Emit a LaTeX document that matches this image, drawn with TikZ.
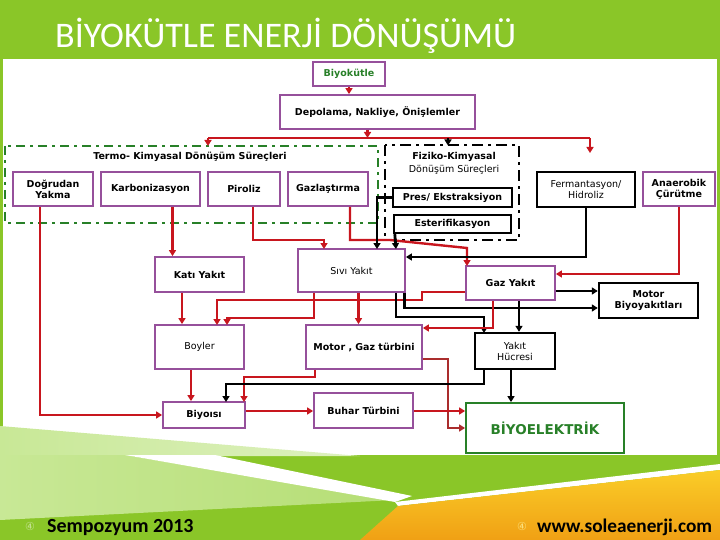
\documentclass[tikz,border=0pt]{standalone}
\usepackage{fontspec}
\setmainfont{DejaVu Sans}
\newfontfamily\carlito{Carlito}
\usetikzlibrary{arrows.meta,calc}
\definecolor{lime}{RGB}{138,198,40}
\definecolor{palelime}{RGB}{200,232,150}
\definecolor{rd}{RGB}{200,22,30}
\definecolor{drd}{RGB}{170,45,45}
\definecolor{purp}{RGB}{150,80,155}
\definecolor{dgreen}{RGB}{40,128,40}
\definecolor{ylw}{RGB}{250,205,40}
\definecolor{org}{RGB}{240,160,20}
\tikzset{
  base/.style={fill=white, align=center, inner sep=1pt, font=\fontsize{9.5}{11}\selectfont\bfseries},
  pbox/.style={base, draw=purp, line width=1.8pt},
  bbox/.style={base, draw=black, line width=2.4pt},
  rarr/.style={draw=rd, line width=2.4pt, -{Triangle[length=6pt,width=7pt]}},
  rline/.style={draw=rd, line width=2.4pt},
  barr/.style={draw=black, line width=2.8pt, -{Triangle[length=6pt,width=7pt]}},
  tarr/.style={draw=black, line width=1.8pt, -{Triangle[length=6pt,width=7pt]}},
  grpg/.style={draw=dgreen, line width=2.6pt, dash pattern=on 9pt off 5pt on 3pt off 5pt},
  grpb/.style={draw=black, line width=2.6pt, dash pattern=on 11pt off 5pt on 3pt off 5pt},
  lbl/.style={font=\fontsize{9.5}{11}\selectfont\bfseries, inner sep=0pt}
}
\begin{document}
\begin{tikzpicture}[x=1pt,y=-1pt]
\useasboundingbox (0,0) rectangle (720,540);
% background
\fill[lime] (0,0) rectangle (720,540);
\fill[white] (3,59) rectangle (717,455);
\shade[left color=palelime, right color=palelime!60!white] (0,426) -- (360,456) -- (0,456) -- cycle;
\shade[left color=palelime, right color=palelime!70!lime] (0,455) -- (125,455) -- (395,500) -- (0,520) -- cycle;
\fill[white] (125,455) -- (215,455) -- (412,496) -- (395,502) -- cycle;
\fill[white] (395,502) -- (720,464) -- (720,470) -- (398,506) -- cycle;
\shade[top color=ylw, bottom color=org] (398,506) -- (720,470) -- (720,540) -- (360,540) -- cycle;
% title
\node[anchor=base west, text=white, font=\carlito\fontsize{36}{38}\selectfont, inner sep=0pt] (title) at (55,48) {BİYOKÜTLE ENERJİ DÖNÜŞÜMÜ};
% footer
\node[anchor=base west, text=lime!50!white, font=\fontsize{11}{12}\selectfont, inner sep=0pt] (b1) at (25,530) {④};
\node[anchor=base west, font=\carlito\bfseries\fontsize{20}{22}\selectfont, inner sep=0pt] (f1) at (47,532) {Sempozyum 2013};
\node[anchor=base west, text=ylw!60!white, font=\fontsize{11}{12}\selectfont, inner sep=0pt] (b2) at (517,530) {④};
\node[anchor=base west, font=\carlito\bfseries\fontsize{19.3}{22}\selectfont, inner sep=0pt] (f2) at (537,532) {www.soleaenerji.com};

% groups
\draw[grpg] (5,146) rectangle (378,223);
\draw[grpb] (385,145) rectangle (519,240);
\node[lbl] (tk) at (190,157) {Termo- Kimyasal Dönüşüm Süreçleri};
\node[lbl, align=center, font=\fontsize{9.5}{13}\selectfont\bfseries] (fk) at (454,163) {Fiziko-Kimyasal\\\mdseries Dönüşüm Süreçleri};

% nodes
\node[pbox, minimum width=72pt, minimum height=24pt, text=dgreen] (bio) at (349,74) {Biyokütle};
\node[pbox, minimum width=195pt, minimum height=34pt] (dep) at (377.5,112) {Depolama, Nakliye, Önişlemler};
\node[pbox, minimum width=80pt, minimum height=34pt] (dog) at (53,189) {Doğrudan\\Yakma};
\node[pbox, minimum width=99pt, minimum height=34pt] (karb) at (150.5,189) {Karbonizasyon};
\node[pbox, minimum width=72pt, minimum height=34pt] (pir) at (244,189) {Piroliz};
\node[pbox, minimum width=80pt, minimum height=34pt] (gaz) at (328,189) {Gazlaştırma};
\node[bbox, minimum width=119pt, minimum height=19pt] (pres) at (452.5,197.5) {Pres/ Ekstraksiyon};
\node[bbox, minimum width=117pt, minimum height=18pt] (est) at (452.5,224) {Esterifikasyon};
\node[bbox, minimum width=98pt, minimum height=35pt, font=\fontsize{9.5}{11}\selectfont] (ferm) at (586,189.5) {Fermantasyon/\\Hidroliz};
\node[pbox, minimum width=72pt, minimum height=34pt] (anae) at (679,189) {Anaerobik\\Çürütme};
\node[pbox, minimum width=89pt, minimum height=35pt] (kati) at (199.5,274.5) {Katı Yakıt};
\node[pbox, minimum width=107pt, minimum height=43pt, font=\fontsize{9.5}{11}\selectfont] (sivi) at (351.5,270.5) {Sıvı Yakıt};
\node[pbox, minimum width=89pt, minimum height=34pt] (gazy) at (510.5,283) {Gaz Yakıt};
\node[bbox, minimum width=99pt, minimum height=35pt] (motb) at (648.5,300.5) {Motor\\Biyoyakıtları};
\node[pbox, minimum width=89pt, minimum height=44pt, font=\fontsize{9.5}{11}\selectfont] (boy) at (199.5,347) {Boyler};
\node[pbox, minimum width=116pt, minimum height=44pt] (mgt) at (364,347) {Motor , Gaz türbini};
\node[bbox, minimum width=80pt, minimum height=36pt, font=\fontsize{9.5}{11}\selectfont] (yh) at (515,351) {Yakıt\\Hücresi};
\node[pbox, minimum width=82pt, minimum height=26pt] (bisi) at (204,415) {Biyoısı};
\node[pbox, minimum width=99pt, minimum height=35pt] (buhar) at (363.5,410.5) {Buhar Türbini};
\node[base, draw=dgreen, line width=1.8pt, minimum width=158pt, minimum height=50pt, text=dgreen, font=\fontsize{13.5}{15}\selectfont\bfseries] (bel) at (545,428) {BİYOELEKTRİK};

% top connectors
\draw[rarr] (bio) -- (bio.south |- dep.north);
\coordinate (busL) at (208,138);
\coordinate (busR) at (590,138);
\draw[rarr] ([xshift=-10pt]dep.south) -- ([xshift=-10pt]dep.south |- busL);
\draw[rline] (busL) -- (busR);
\draw[rarr] (busL) -- (208,146);
\draw[rarr] (busR) -- (590,153);
\draw[barr] (448,138) -- (448,145.5);

% termo branches
\draw[rarr] ([xshift=-13pt]dog.south) |- (bisi.west);
\draw[rarr] ([xshift=22pt]karb.south) -- ([xshift=22pt]karb.south |- kati.north);
\draw[rarr] ([xshift=9pt]pir.south) |- (324,240) -- (324,249);
\draw[rarr] ([xshift=22pt]gaz.south) |- (390,240) -- (467,248) -- (467,266);

% fiziko branches
\draw[barr] (pres.west) -| (377,249);
\draw[barr] ([xshift=2pt]est.south west) -- (396,249);
\draw[barr] (ferm.south) |- (sivi.east |- 0,257);
\draw[rarr] (anae.south) |- (gazy.east |- 0,274);

% second level
\draw[rarr] ([xshift=-17.5pt]kati.south) -- ([xshift=-17.5pt]kati.south |- boy.north);
\draw[rarr] ([xshift=-37.5pt]sivi.south) |- (227,318) -- (227,325);
\draw[rarr] (gazy.west |- 0,292) -| (422,300) -| (217,325);
\draw[rarr] ([xshift=7pt]sivi.south) -- ([xshift=7pt]sivi.south |- mgt.north);
\draw[barr] (gazy.east |- 0,291) -- (motb.west |- 0,291);
\draw[barr] ([xshift=-1.5pt]sivi.south east) |- (motb.west |- 0,308);
\draw[barr] ([xshift=-10pt]sivi.south east) |- (484,317) -- (484,333);
\draw[barr] ([xshift=8.5pt]gazy.south) -- ([xshift=8.5pt]gazy.south |- yh.north);
\draw[rarr] ([xshift=-17.5pt]gazy.south) |- (mgt.east |- 0,328);

% third level
\draw[rarr] ([xshift=-8.5pt]boy.south) -- ([xshift=-8.5pt]boy.south |- bisi.north);
\draw[rarr] ([xshift=-49pt]mgt.south) |- (244,377) -- (244,402);
\draw[draw=drd, line width=2.2pt, -{Triangle[length=6pt,width=7pt]}] (mgt.east |- 0,359) -| (448,428) -- (bel.west |- 0,428);
\draw[tarr] ([xshift=-31pt]yh.south) |- (226,384) -- (226,402);
\draw[barr] ([xshift=-4pt]yh.south) -- ([xshift=-4pt]yh.south |- bel.north);
\draw[rarr] (bisi.east |- 0,411) -- (buhar.west |- 0,411);
\draw[rarr] (buhar.east |- 0,411) -- (bel.west |- 0,411);
\end{tikzpicture}
\end{document}
